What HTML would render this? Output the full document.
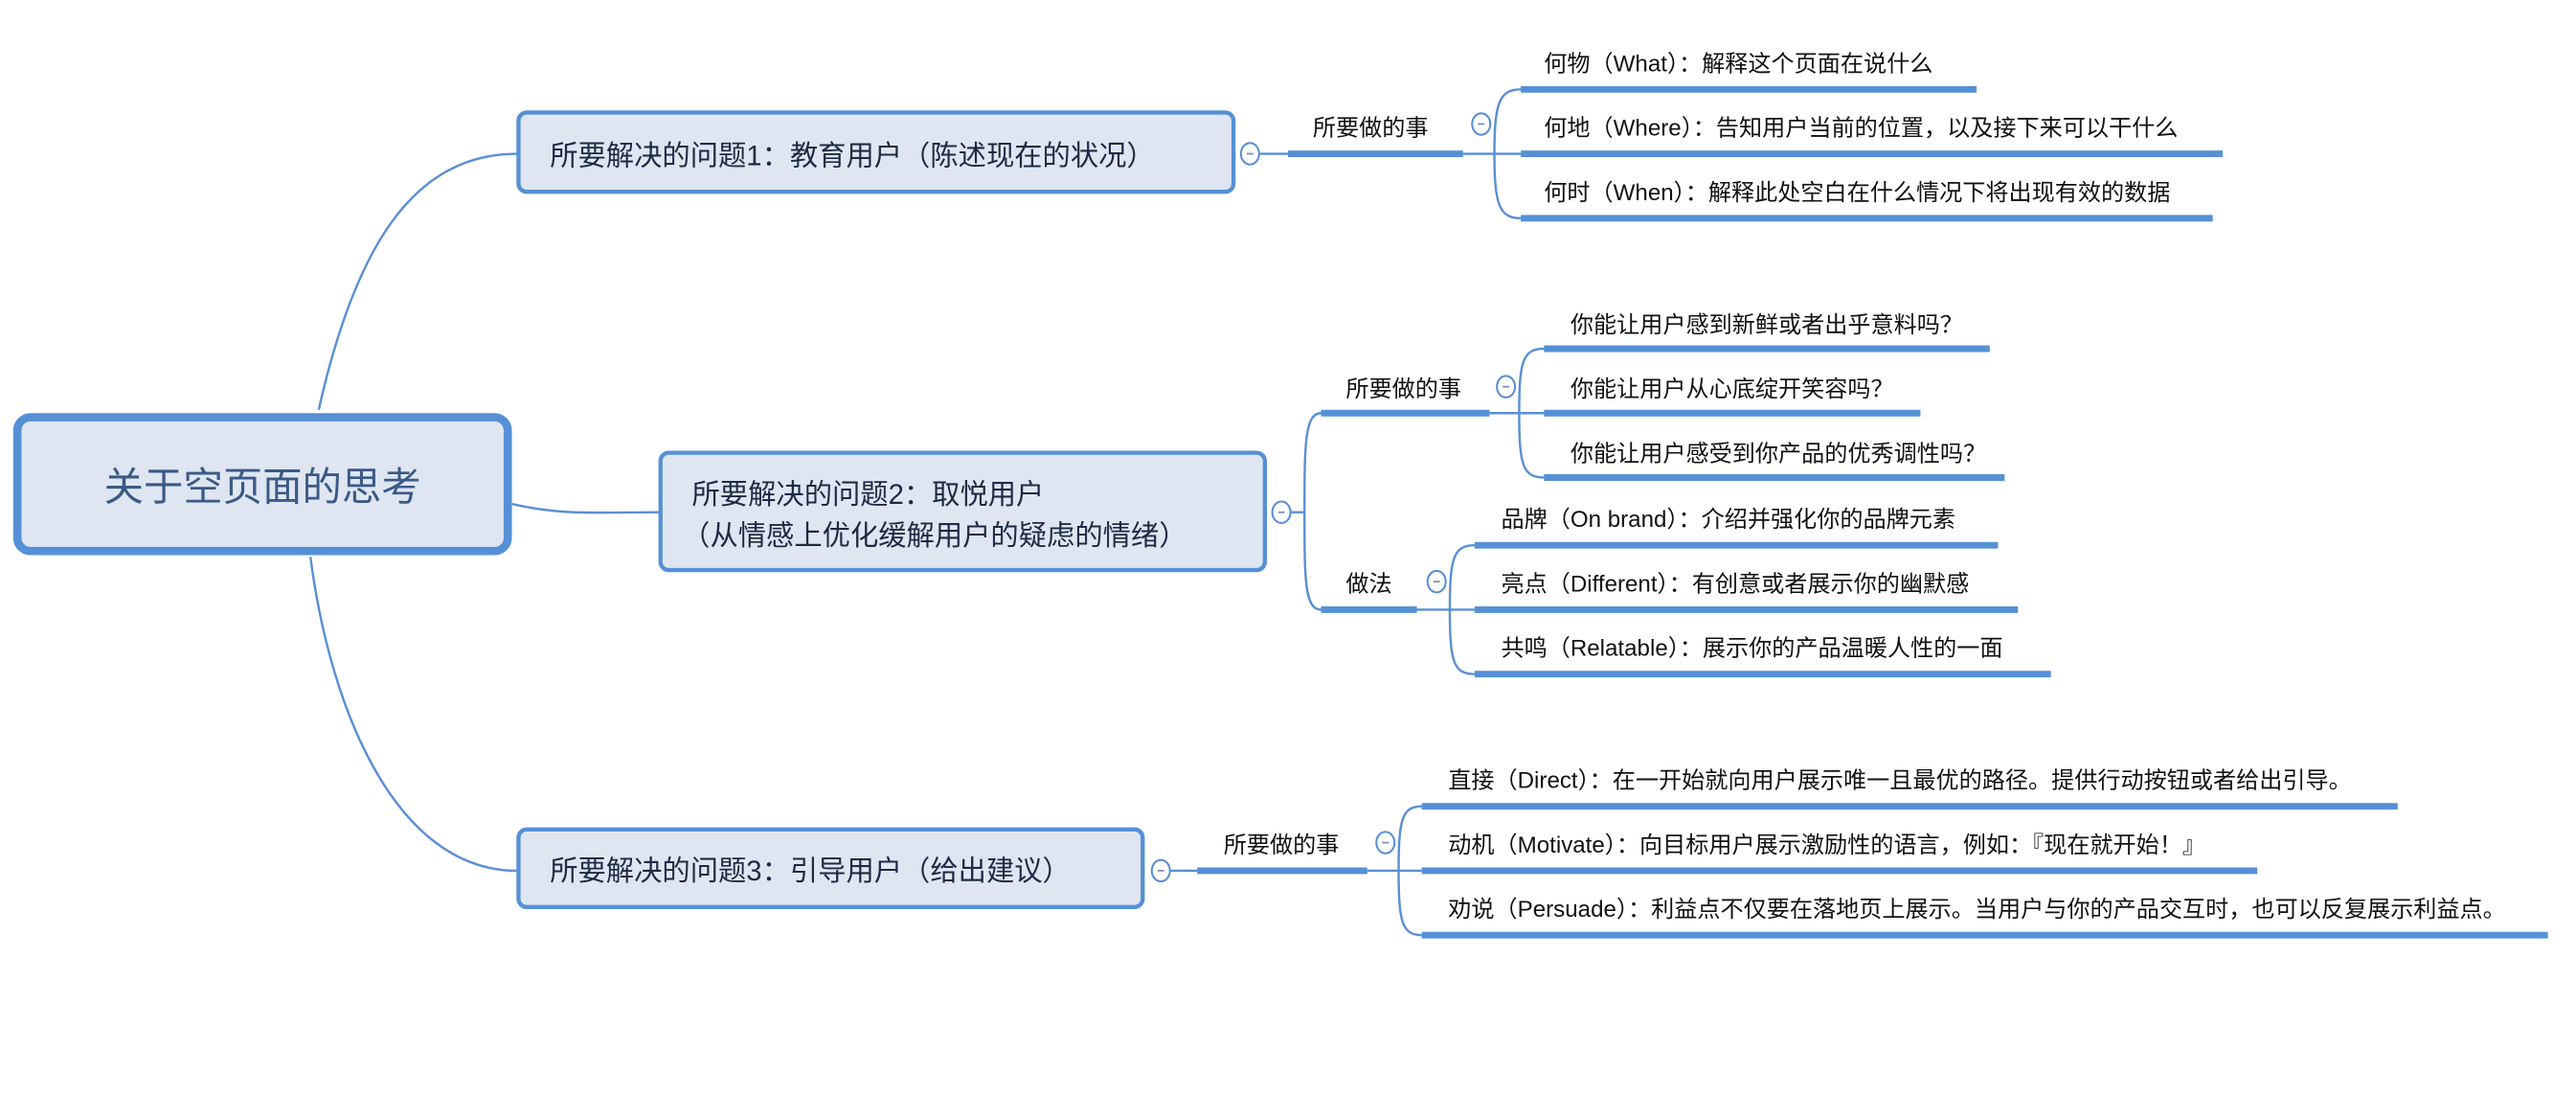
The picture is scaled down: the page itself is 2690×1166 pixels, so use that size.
<!DOCTYPE html>
<html><head><meta charset="utf-8">
<style>
html,body{margin:0;padding:0;background:#fff;}
svg{display:block;}
text{font-family:"Liberation Sans","Noto Sans CJK SC",sans-serif;fill:#111;}
</style></head>
<body>
<svg width="2690" height="1166" viewBox="0 0 1560 676" xmlns="http://www.w3.org/2000/svg">
<g fill="none" stroke="#5a8fd4" stroke-width="1.4">
  <!-- root connections -->
  <path d="M193,248 C215,150 250,93 313,93"/>
  <path d="M310,305 C340,312 360,310 399,310"/>
  <path d="M188,337 C200,430 240,527 313,527"/>
  <!-- node1 -->
  <path d="M763,93 H780"/>
  <path d="M886,93 H905"/>
  <path d="M905,93 C905,62 908,54 921,54"/>
  <path d="M905,93 C905,124 908,132 921,132"/>
  <path d="M905,93 H921"/>
  <!-- node2 -->
  <path d="M782,310 H790"/>
  <path d="M790,310 C790,270 790,250 800,250"/>
  <path d="M790,310 C790,350 790,369 800,369"/>
  <path d="M902,250 H920"/>
  <path d="M920,250 C920,219 922,211 935,211"/>
  <path d="M920,250 C920,281 922,289 935,289"/>
  <path d="M920,250 H935"/>
  <path d="M858,369 H878"/>
  <path d="M878,369 C878,338 880,330 893,330"/>
  <path d="M878,369 C878,400 880,408 893,408"/>
  <path d="M878,369 H893"/>
  <!-- node3 -->
  <path d="M709,527 H725"/>
  <path d="M828,527 H847"/>
  <path d="M847,527 C847,496 849,488 861,488"/>
  <path d="M847,527 C847,558 849,566 861,566"/>
  <path d="M847,527 H861"/>
</g>
<!-- bars -->
<g stroke="#5590d6" stroke-width="4">
  <path d="M780,93 H886"/>
  <path d="M921,54 H1197"/><path d="M921,93 H1346"/><path d="M921,132 H1340"/>
  <path d="M800,250 H902"/><path d="M800,369 H858"/>
  <path d="M935,211 H1205"/><path d="M935,250 H1163"/><path d="M935,289 H1214"/>
  <path d="M893,330 H1210"/><path d="M893,369 H1222"/><path d="M893,408 H1242"/>
  <path d="M725,527 H828"/>
  <path d="M861,488 H1452"/><path d="M861,527 H1367"/><path d="M861,566 H1543"/>
</g>
<!-- nodes -->
<rect x="10.5" y="252.5" width="297" height="81" rx="8" fill="#dfe6f2" stroke="#5590d6" stroke-width="5"/>
<text x="159" y="303" font-size="24" text-anchor="middle" style="fill:#3a5a86">关于空页面的思考</text>
<rect x="314" y="68" width="433" height="48" rx="5" fill="#dfe6f2" stroke="#5590d6" stroke-width="2.5"/>
<text x="333" y="100" font-size="17" style="fill:#1d2a44">所要解决的问题1：教育用户（陈述现在的状况）</text>
<rect x="400" y="274" width="366" height="71" rx="5" fill="#dfe6f2" stroke="#5590d6" stroke-width="2.5"/>
<text x="419" y="305" font-size="17" style="fill:#1d2a44">所要解决的问题2：取悦用户</text>
<text x="413" y="330" font-size="17" style="fill:#1d2a44">（从情感上优化缓解用户的疑虑的情绪）</text>
<rect x="314" y="502" width="378" height="47" rx="5" fill="#dfe6f2" stroke="#5590d6" stroke-width="2.5"/>
<text x="333" y="533" font-size="17" style="fill:#1d2a44">所要解决的问题3：引导用户（给出建议）</text>
<!-- collapse circles -->
<g fill="#fff" stroke="#5a8fd4" stroke-width="1.2">
  <ellipse cx="757" cy="93" rx="5.5" ry="6.5"/>
  <ellipse cx="897" cy="75" rx="5.5" ry="6.5"/>
  <ellipse cx="776" cy="310" rx="5.5" ry="6.5"/>
  <ellipse cx="912" cy="234" rx="5.5" ry="6.5"/>
  <ellipse cx="870" cy="352" rx="5.5" ry="6.5"/>
  <ellipse cx="703" cy="527" rx="5.5" ry="6.5"/>
  <ellipse cx="839" cy="510" rx="5.5" ry="6.5"/>
</g>
<g stroke="#7a8fb0" stroke-width="1">
  <path d="M755,93h4M895,75h4M774,310h4M910,234h4M868,352h4M701,527h4M837,510h4"/>
</g>
<!-- labels -->
<g font-size="14">
  <text x="795" y="82">所要做的事</text>
  <text x="935" y="43">何物（What）：解释这个页面在说什么</text>
  <text x="935" y="82">何地（Where）：告知用户当前的位置，以及接下来可以干什么</text>
  <text x="935" y="121">何时（When）：解释此处空白在什么情况下将出现有效的数据</text>
  <text x="815" y="240">所要做的事</text>
  <text x="815" y="358">做法</text>
  <text x="951" y="201">你能让用户感到新鲜或者出乎意料吗？</text>
  <text x="951" y="240">你能让用户从心底绽开笑容吗？</text>
  <text x="951" y="279">你能让用户感受到你产品的优秀调性吗？</text>
  <text x="909" y="319">品牌（On brand）：介绍并强化你的品牌元素</text>
  <text x="909" y="358">亮点（Different）：有创意或者展示你的幽默感</text>
  <text x="909" y="397">共鸣（Relatable）：展示你的产品温暖人性的一面</text>
  <text x="741" y="516">所要做的事</text>
  <text x="877" y="477">直接（Direct）：在一开始就向用户展示唯一且最优的路径。提供行动按钮或者给出引导。</text>
  <text x="877" y="516">动机（Motivate）：向目标用户展示激励性的语言，例如：『现在就开始！』</text>
  <text x="877" y="555">劝说（Persuade）：利益点不仅要在落地页上展示。当用户与你的产品交互时，也可以反复展示利益点。</text>
</g>
</svg>
</body></html>
